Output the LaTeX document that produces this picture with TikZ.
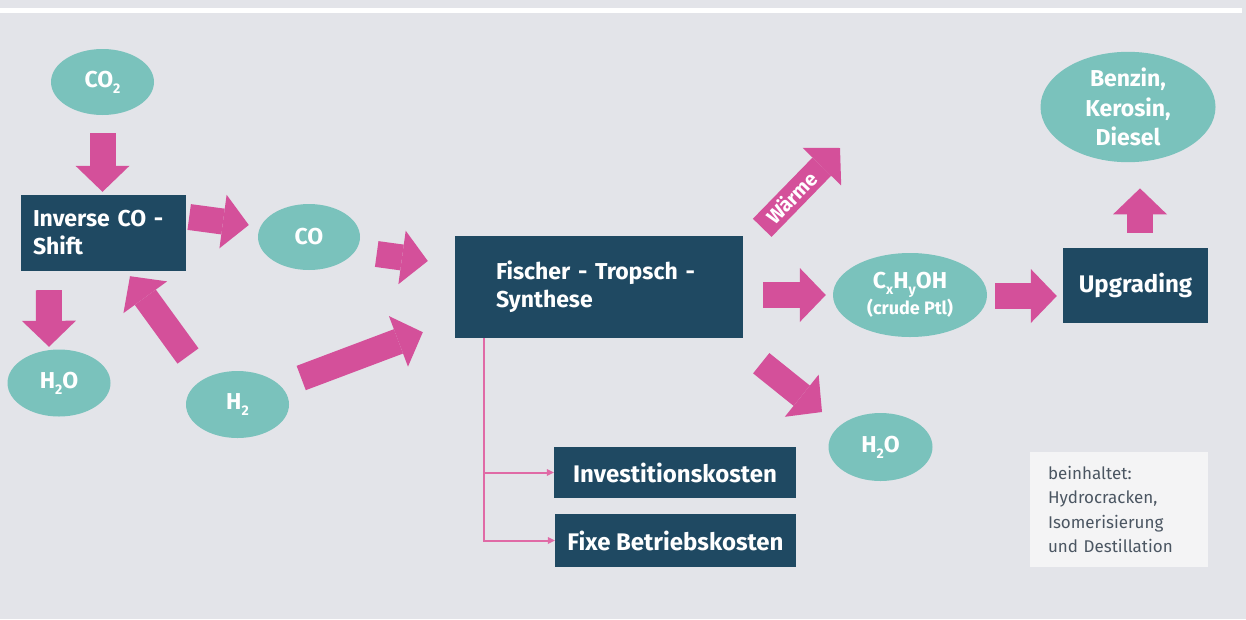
\documentclass[tikz,border=0pt]{standalone}
\usepackage{fontspec}
\setmainfont{Fira Sans}
\usetikzlibrary{calc,shapes.geometric,arrows.meta,positioning}

\definecolor{bgcol}{HTML}{E3E4E9}
\definecolor{pinkcol}{HTML}{D4509A}
\definecolor{linecol}{HTML}{E06AA6}
\definecolor{tealcol}{HTML}{7AC2BC}
\definecolor{navycol}{HTML}{1F4962}
\definecolor{notecol}{HTML}{F4F4F5}
\definecolor{notetext}{HTML}{4B5662}

\newcommand{\tief}[1]{\raisebox{-6pt}{\fontsize{14}{14}\selectfont #1}}

\tikzset{
  stoff/.style={ellipse, fill=tealcol, text=white, font=\bfseries\fontsize{23}{28}\selectfont, align=center, inner sep=0pt},
  prozess/.style={rectangle, fill=navycol, text=white, font=\bfseries\fontsize{23}{28}\selectfont, inner sep=0pt},
  kosten/.style={rectangle, fill=navycol, text=white, font=\bfseries\fontsize{24}{28}\selectfont, inner sep=0pt},
  fatarrow/.style={draw=pinkcol, line width=26pt, -{Triangle[width=54pt,length=26pt,line width=0pt]}},
  costline/.style={draw=linecol, line width=2pt, -{Triangle[width=7pt,length=7pt,line width=0pt]}},
}

\begin{document}
\begin{tikzpicture}[x=1pt,y=-1pt]
 % background
 \fill[bgcol] (0,0) rectangle (1246,619);
 \fill[white] (0,8) rectangle (1242,13);

 % left part
 \node[stoff, minimum width=103pt, minimum height=66pt] (co2) at (102.5,82) {CO\tief{2}};
 \node[prozess, minimum width=165pt, minimum height=76pt, text width=141pt, align=left] (inv) at (103.5,233) {Inverse CO -\\Shift};
 \node[stoff, minimum width=102pt, minimum height=66pt] (co) at (309,237) {CO};
 \node[stoff, minimum width=103pt, minimum height=67pt] (h2oL) at (59,383) {H\tief{2}O};
 \node[stoff, minimum width=103pt, minimum height=67pt] (h2) at (237.5,404.5) {H\tief{2}};

 % synthesis
 \node[prozess, minimum width=288pt, minimum height=102pt, text width=206pt, align=left] (ft) at (599,287) {Fischer - Tropsch -\\Synthese};
 \node[stoff, minimum width=154pt, minimum height=84pt] (cxhy) at (910,295) {C\tief{x}H\tief{y}OH\\[-2pt]{\fontsize{18}{20}\selectfont (crude Ptl)}};
 \node[stoff, minimum width=104pt, minimum height=68pt] (h2oR) at (880.5,447) {H\tief{2}O};
 \coordinate (heat) at (840,148);

 % right part
 \node[prozess, minimum width=145pt, minimum height=75pt, font=\bfseries\fontsize{24}{28}\selectfont] (upg) at (1135.5,285.5) {Upgrading};
 \node[stoff, minimum width=175pt, minimum height=110pt, font=\bfseries\fontsize{23}{29.5}\selectfont] (fuel) at (1128,107) {Benzin,\\Kerosin,\\Diesel};
 \node[fill=notecol, text=notetext, minimum width=178pt, minimum height=115pt, text width=142pt, inner xsep=18pt, align=left, font=\fontsize{17}{24.5}\selectfont] (note) at (1119,509.5) {beinhaltet:\\Hydrocracken,\\Isomerisierung\\und Destillation};

 % costs
 \node[kosten, minimum width=242pt, minimum height=51pt] (invk) at (675,472.5) {Investitionskosten};
 \node[kosten, minimum width=241pt, minimum height=53pt] (fix) at (675.5,540.5) {Fixe Betriebskosten};

 % block arrows
 \draw[fatarrow] ($(co2.south)+(0,18)$) -- ($(inv.north)+(-1,-3)$);
 \draw[fatarrow] ($(inv.east)+(3,-16)$) -- ($(co.west)+(-9,-12)$);
 \draw[fatarrow] ($(inv.south west)+(28,19)$) -- ($(h2oL.north)+(-10,-2.5)$);
 \draw[fatarrow] ($(h2)+(-49.5,-48.5)$) -- ($(inv.south)+(26.5,5)$);
 \draw[fatarrow] ($(co.east)+(16.5,17)$) -- ($(ft.west)+(-27,-26)$);
 \draw[fatarrow] ($(h2.east)+(12,-26.5)$) -- ($(ft.south west)+(-32,-6)$);
 \draw[fatarrow] ($(ft.north east)+(19,-8)$) -- node[pos=0.38, sloped, text=white, font=\bfseries\fontsize{20}{22}\selectfont] {Wärme} (heat);
 \draw[fatarrow] ($(ft.east)+(20,8)$) -- ($(cxhy.west)+(-7,0)$);
 \draw[fatarrow] ($(ft.south east)+(18,25)$) -- ($(h2oR)+(-58.5,-35)$);
 \draw[fatarrow] ($(cxhy.east)+(8,1)$) -- ($(upg.west)+(-6,10.5)$);
 \draw[fatarrow] ($(upg.north)+(4.5,-15)$) -- ($(fuel.south)+(12,26)$);

 % thin lines
 \draw[costline] ($(ft.south west)+(29,0)$) |- (invk.west);
 \draw[costline] ($(ft.south west)+(29,0)$) |- (fix.west);
 \draw[notecol, line width=4pt] ($(upg.south)+(-1.5,0)$) -- ($(upg.south)+(-1.5,0)$ |- note.north);
\end{tikzpicture}
\end{document}
